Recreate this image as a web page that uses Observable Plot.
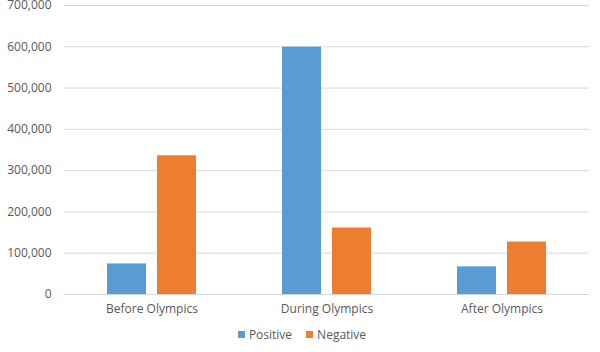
<!DOCTYPE html>
<html>
<head>
<meta charset="utf-8">
<script src="https://cdn.jsdelivr.net/npm/d3@7"></script>
<script src="https://cdn.jsdelivr.net/npm/@observablehq/plot@0.6"></script>
<style>
  html, body { margin: 0; padding: 0; background: #fff; }
  body { width: 600px; height: 352px; overflow: hidden; font-family: "Open Sans", sans-serif; }
  #chart svg { display: block; }
  #legend { display: flex; justify-content: center; align-items: center; gap: 14px; font-size: 12px; color: #595959; margin-top: 4px; margin-left: 4px; }
  #legend .item { display: flex; align-items: center; gap: 4px; }
  #legend .sw { width: 7px; height: 7px; display: inline-block; }
</style>
</head>
<body>
<div id="chart"></div>
<div id="legend"></div>
<script>
const categories = ["Before Olympics", "During Olympics", "After Olympics"];
const series = ["Positive", "Negative"];
const positiveValues = [74000, 599000, 67000];
const negativeValues = [336000, 161000, 127000];
const yTicks = [0, 100000, 200000, 300000, 400000, 500000, 600000, 700000];
const colors = ["#5B9BD5", "#ED7D31"];

const data = [];
categories.forEach((c, i) => {
  data.push({group: c, series: "Positive", value: positiveValues[i]});
  data.push({group: c, series: "Negative", value: negativeValues[i]});
});

const fmt = d3.format(",");

const chart = Plot.plot({
  width: 600,
  height: 322,
  marginTop: 5,
  marginBottom: 28,
  marginLeft: 63,
  marginRight: 10,
  style: {fontFamily: "'Open Sans', sans-serif", fontSize: "12px", color: "#595959", background: "#fff"},
  fx: {domain: categories, padding: 0, label: null, axis: "bottom", tickSize: 0, tickPadding: 10},
  x: {domain: series, paddingInner: 0.22, paddingOuter: 0.85, axis: null},
  y: {domain: [0, 700000], ticks: yTicks, tickFormat: fmt, label: null, tickSize: 0, tickPadding: 13},
  color: {domain: series, range: colors},
  marks: [
    Plot.ruleY(yTicks, {stroke: "#d9d9d9", strokeWidth: 1}),
    Plot.barY(data, {fx: "group", x: "series", y: "value", fill: "series"})
  ]
});
document.getElementById("chart").appendChild(chart);

const legend = document.getElementById("legend");
series.forEach((s, i) => {
  const item = document.createElement("span");
  item.className = "item";
  const sw = document.createElement("span");
  sw.className = "sw";
  sw.style.background = colors[i];
  const t = document.createElement("span");
  t.textContent = s;
  item.appendChild(sw);
  item.appendChild(t);
  legend.appendChild(item);
});
</script>
</body>
</html>
